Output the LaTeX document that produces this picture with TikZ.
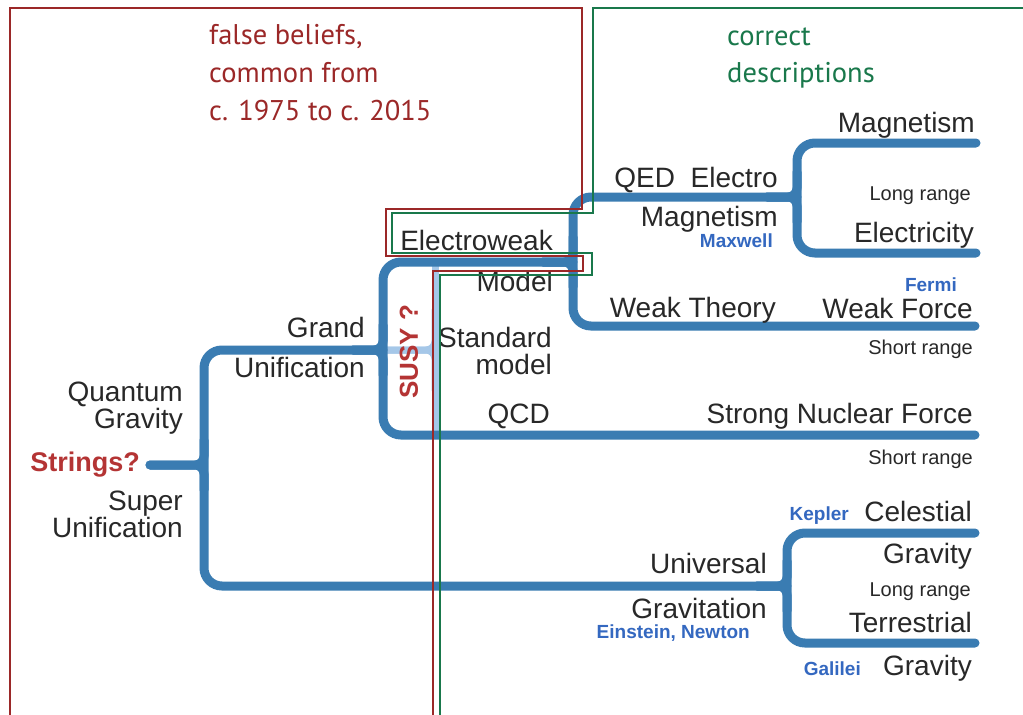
\documentclass[tikz,border=0pt]{standalone}
\usepackage{fontspec}
\setmainfont{Liberation Sans}
\newfontfamily\myriad{PT Sans}
\usetikzlibrary{calc}
\definecolor{treeblue}{RGB}{58,124,178}
\definecolor{susyblue}{RGB}{165,199,232}
\definecolor{txt}{RGB}{40,40,40}
\definecolor{namblue}{RGB}{52,104,192}
\definecolor{lblred}{RGB}{180,52,52}
\definecolor{fred}{RGB}{155,40,40}
\definecolor{fgreen}{RGB}{25,120,75}
\begin{document}
\begin{tikzpicture}[x=1pt,y=-1pt,
  tree/.style={line width=9pt, draw=treeblue, line cap=round, rounded corners=18pt},
  fil/.style={line width=9pt, draw=treeblue, line cap=round, rounded corners=9pt},
  susy/.style={line width=7pt, draw=susyblue, line cap=round, rounded corners=9pt},
  big/.style={font=\fontsize{28}{30}\selectfont, text=txt, inner sep=0pt, anchor=base east},
  sml/.style={font=\fontsize{20}{22}\selectfont, text=txt, inner sep=0pt, anchor=base east},
  nam/.style={font=\bfseries\fontsize{19}{21}\selectfont, text=namblue, inner sep=0pt, anchor=base east},
  flab/.style={font=\myriad\fontsize{28.5}{32}\selectfont, inner sep=0pt, anchor=base west},
  rframe/.style={draw=fred, line width=2.3pt},
  gframe/.style={draw=fgreen, line width=2.3pt}]
\useasboundingbox (0,0) rectangle (1023,715);
\fill[white] (0,0) rectangle (1023,715);

% junction and end coordinates
\coordinate (root) at (150,465);
\coordinate (jS) at (204,465);
\coordinate (jGU) at (383,350);
\coordinate (jEW) at (573,262);
\coordinate (jQED) at (797,197);
\coordinate (jUG) at (787,586);
\coordinate (eMag) at (976,143);
\coordinate (eEle) at (976,253);
\coordinate (eWeak) at (975,326);
\coordinate (eStr) at (975,435);
\coordinate (eCel) at (975,533);
\coordinate (eTer) at (975,643);

% SUSY light branch
\draw[susy] (jGU) -- (435,350) -- (435,310);
\draw[susy] (jGU) -- (435,350) -- (435,390);
\draw[susy] (435,266) -- (435,431);

% braces
\draw[tree] (jGU) -- (jS |- jGU) -- (jS |- jUG) -- (jUG);
\draw[tree] (jEW) -- (jGU |- jEW) -- (jGU |- eStr) -- (eStr);
\draw[tree] (jQED) -- (jEW |- jQED) -- (jEW |- eWeak) -- (eWeak);
\draw[tree] (eMag) -- (jQED |- eMag) -- (jQED |- eEle) -- (eEle);
\draw[tree] (eCel) -- (jUG |- eCel) -- (jUG |- eTer) -- (eTer);

% stubs with fillets
\draw[fil] (root) -- (jS) -- ++(0,-25);
\draw[fil] (root) -- (jS) -- ++(0,25);
\draw[fil] ($(jGU)+(-30,0)$) -- (jGU) -- ++(0,-25);
\draw[fil] ($(jGU)+(-30,0)$) -- (jGU) -- ++(0,25);
\draw[fil] ($(jEW)+(-30,0)$) -- (jEW) -- ++(0,-25);
\draw[fil] ($(jEW)+(-30,0)$) -- (jEW) -- ++(0,25);
\draw[fil] ($(jQED)+(-30,0)$) -- (jQED) -- ++(0,-25);
\draw[fil] ($(jQED)+(-30,0)$) -- (jQED) -- ++(0,25);
\draw[fil] ($(jUG)+(-30,0)$) -- (jUG) -- ++(0,-25);
\draw[fil] ($(jUG)+(-30,0)$) -- (jUG) -- ++(0,25);

% right column labels
\node[big] (tMag) at (975,132) {Magnetism};
\node[sml] (tLR1) at (971,200) {Long range};
\node[big] (tEle) at (974,242) {Electricity};
\node[nam] (tFermi) at (957,291) {Fermi};
\node[big] (tWF) at (973,318) {Weak Force};
\node[sml] (tSR1) at (973,354) {Short range};
\node[big] (tSNF) at (973,423) {Strong Nuclear Force};
\node[sml] (tSR2) at (973,464) {Short range};
\node[big] (tCel) at (972,521) {Celestial};
\node[nam] (tKep) at (849,520) {Kepler};
\node[big] (tGr1) at (972,563) {Gravity};
\node[sml] (tLR2) at (971,596) {Long range};
\node[big] (tTer) at (972,632) {Terrestrial};
\node[big] (tGr2) at (972,675) {Gravity};
\node[nam] (tGal) at (861,675) {Galilei};

% middle labels
\node[big] (tQED) at (778,187) {QED\ \ Electro};
\node[big] (tMag2) at (778,226) {Magnetism};
\node[nam] (tMax) at (773,247) {Maxwell};
\node[big] (tWT) at (776,317) {Weak Theory};
\node[big] (tUni) at (767,573) {Universal};
\node[big] (tGrav) at (767,618) {Gravitation};
\node[nam] (tEN) at (750,638) {Einstein, Newton};

% standard model block
\node[big] (tEW) at (553,250) {Electroweak};
\node[big] (tModel) at (553,291) {Model};
\node[big] (tStd) at (552,347) {Standard};
\node[big] (tmodel) at (552,374) {model};
\node[big] (tQCD) at (550,423) {QCD};
\node[font=\bfseries\fontsize{26}{28}\selectfont, text=lblred, inner sep=0pt, rotate=90] (tSusy) at (409,352) {SUSY ?};

% left labels
\node[big] (tGrand) at (365,337) {Grand};
\node[big] (tUnif1) at (365,377) {Unification};
\node[big] (tQuant) at (183,401) {Quantum};
\node[big] (tQGrav) at (183,428) {Gravity};
\node[font=\bfseries\fontsize{27}{29}\selectfont, text=lblred, inner sep=0pt, anchor=base east] (tStr) at (140,471) {Strings?};
\node[big] (tSuper) at (183,510) {Super};
\node[big] (tUnif2) at (183,537) {Unification};

% frames
\draw[rframe] (10,715) -- (10,8) -- (582,8) -- (582,209) -- (386,209) -- (386,256) -- (583,256) -- (583,271) -- (433,271) -- (433,715);
\draw[gframe] (1023,8) -- (593,8) -- (593,213) -- (392,213) -- (392,253) -- (592,253) -- (592,275) -- (440,275) -- (440,715);

% frame labels
\node[flab, text=fred] (fb1) at (209,44) {false beliefs,};
\node[flab, text=fred] (fb2) at (209,82) {common from};
\node[flab, text=fred] (fb3) at (209,120) {c. 1975 to c. 2015};
\node[flab, text=fgreen] (cd1) at (727,45) {correct};
\node[flab, text=fgreen] (cd2) at (727,82) {descriptions};
\end{tikzpicture}
\end{document}
